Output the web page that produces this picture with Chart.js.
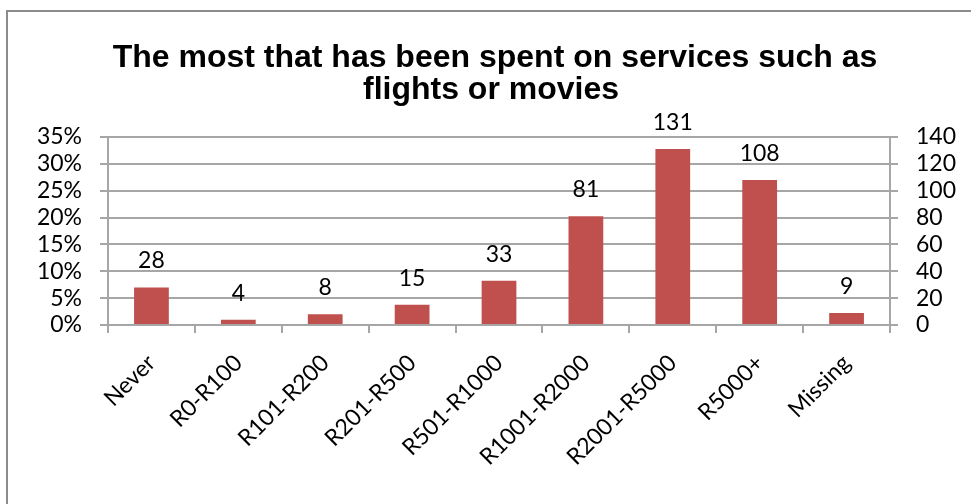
<!DOCTYPE html>
<html>
<head>
<meta charset="utf-8">
<script src="https://cdn.jsdelivr.net/npm/chart.js@4/dist/chart.umd.min.js"></script>
<style>
  html, body { margin: 0; padding: 0; background: #fff; }
  canvas { display: block; }
</style>
</head>
<body>
<canvas id="spendChart" width="971" height="504"></canvas>
<script>
const categories = ['Never', 'R0-R100', 'R101-R200', 'R201-R500', 'R501-R1000', 'R1001-R2000', 'R2001-R5000', 'R5000+', 'Missing'];
const counts = [28, 4, 8, 15, 33, 81, 131, 108, 9];
const titleLines = ['The most that has been spent on services such as', 'flights or movies'];
const percentTicks = { min: 0, max: 35, step: 5 };
const countTicks = { min: 0, max: 140, step: 20 };

const GRID = '#a6a6a6';
const TICK_FONT = { family: 'Lato', size: 23, lineHeight: 1 };

// frame lines and the two-line title
const frame = {
  id: 'frame',
  beforeDraw(chart) {
    const ctx = chart.ctx;
    ctx.save();
    ctx.fillStyle = '#fff';
    ctx.fillRect(0, 0, chart.width, chart.height);
    ctx.strokeStyle = '#8c8c8c';
    ctx.lineWidth = 2;
    ctx.beginPath();
    ctx.moveTo(7, chart.height + 5);
    ctx.lineTo(7, 11);
    ctx.lineTo(chart.width + 5, 11);
    ctx.stroke();
    ctx.fillStyle = '#000';
    ctx.font = 'bold 32px "Liberation Sans", Arial, sans-serif';
    ctx.textAlign = 'center';
    ctx.textBaseline = 'alphabetic';
    ctx.fillText(titleLines[0], 495, 67);
    ctx.fillText(titleLines[1], 491, 99);
    ctx.restore();
  }
};

// value above every bar
const valueLabels = {
  id: 'valueLabels',
  afterDatasetsDraw(chart) {
    const ctx = chart.ctx;
    const meta = chart.getDatasetMeta(0);
    ctx.save();
    ctx.fillStyle = '#000';
    ctx.font = '23px Lato';
    ctx.textAlign = 'center';
    ctx.textBaseline = 'alphabetic';
    meta.data.forEach((bar, i) => {
      ctx.fillText(String(counts[i]), bar.x, bar.y - 19);
    });
    ctx.restore();
  }
};

new Chart(document.getElementById('spendChart'), {
  type: 'bar',
  data: {
    labels: categories,
    datasets: [{
      data: counts,
      yAxisID: 'yCount',
      backgroundColor: '#c0504d',
      categoryPercentage: 1,
      barPercentage: 0.4
    }]
  },
  options: {
    responsive: false,
    animation: false,
    layout: { padding: { top: 137, left: 0, right: 0, bottom: 0 } },
    plugins: {
      legend: { display: false },
      title: { display: false },
      tooltip: { enabled: false }
    },
    scales: {
      x: {
        offset: true,
        afterFit(scale) { scale.height = 179; },
        grid: { offset: true, drawOnChartArea: false, tickLength: 8, color: GRID, lineWidth: 2 },
        border: { color: GRID, width: 2 },
        ticks: { font: TICK_FONT, color: '#000', minRotation: 45, maxRotation: 45, padding: 18, autoSkip: false }
      },
      yPct: {
        type: 'linear',
        position: 'left',
        min: percentTicks.min,
        max: percentTicks.max,
        afterFit(scale) { scale.width = 108; },
        grid: { color: GRID, lineWidth: 2, tickLength: 8 },
        border: { color: GRID, width: 2 },
        ticks: {
          stepSize: percentTicks.step,
          autoSkip: false,
          font: TICK_FONT,
          color: '#000',
          padding: 18,
          callback: v => v + '%'
        }
      },
      yCount: {
        type: 'linear',
        position: 'right',
        min: countTicks.min,
        max: countTicks.max,
        afterFit(scale) { scale.width = 81; },
        grid: { drawOnChartArea: false, color: GRID, lineWidth: 2, tickLength: 8 },
        border: { color: GRID, width: 2 },
        ticks: { stepSize: countTicks.step, autoSkip: false, font: TICK_FONT, color: '#000', padding: 18 }
      }
    }
  },
  plugins: [frame, valueLabels]
});
</script>
</body>
</html>
